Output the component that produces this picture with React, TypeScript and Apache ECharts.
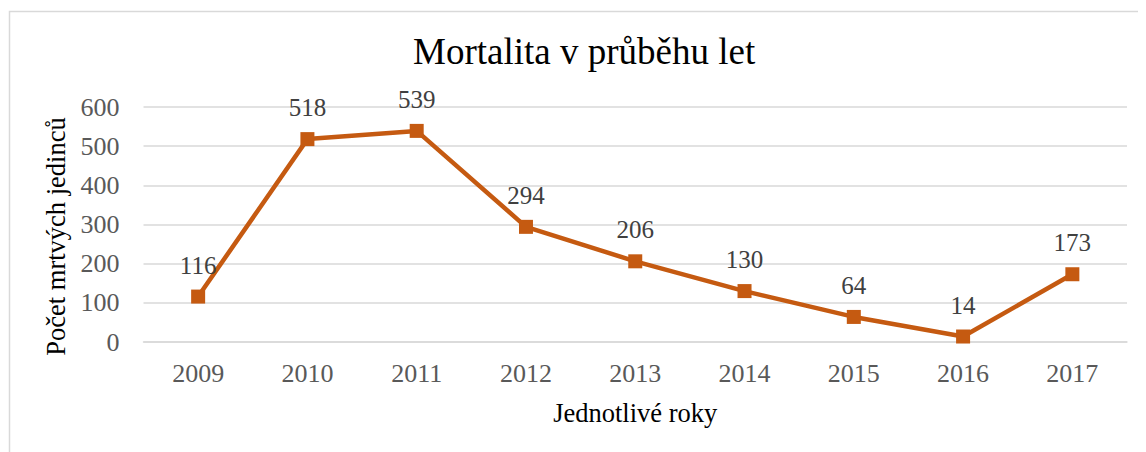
import React, { useEffect, useRef } from "react";
import * as echarts from "echarts";

const years = ["2009", "2010", "2011", "2012", "2013", "2014", "2015", "2016", "2017"];
const deaths = [116, 518, 539, 294, 206, 130, 64, 14, 173];
const titleText = "Mortalita v průběhu let";
const xName = "Jednotlivé roky";
const yName = "Počet mrtvých jedinců";

const FONT = "Liberation Serif";

export default function App() {
  const ref = useRef<HTMLDivElement>(null);
  useEffect(() => {
    if (!ref.current) return;
    const chart = echarts.init(ref.current, null, { renderer: "svg" });
    chart.setOption({
      animation: false,
      backgroundColor: "#ffffff",
      textStyle: { fontFamily: FONT },
      graphic: [
        {
          type: "rect",
          shape: { x: 1.5, y: 3.5, width: 1200, height: 600 },
          style: { fill: "none", stroke: "#d9d9d9", lineWidth: 1.5 },
          silent: true,
        },
      ],
      title: {
        text: titleText,
        left: 400,
        top: 20,
        textStyle: { fontFamily: FONT, fontSize: 37, fontWeight: "normal", color: "#000000" },
      },
      grid: { left: 135.5, right: 19, top: 99, bottom: 110 },
      xAxis: {
        type: "category",
        data: years,
        boundaryGap: true,
        name: xName,
        nameLocation: "middle",
        nameGap: 57,
        nameTextStyle: { fontFamily: FONT, fontSize: 26.5, color: "#000000" },
        axisLine: { show: true, lineStyle: { color: "#d9d9d9", width: 1.5 } },
        axisTick: { show: false },
        axisLabel: { fontFamily: FONT, fontSize: 26, color: "#595959", margin: 18 },
      },
      yAxis: {
        type: "value",
        min: 0,
        max: 600,
        interval: 100,
        name: yName,
        nameLocation: "middle",
        nameGap: 68,
        nameTextStyle: { fontFamily: FONT, fontSize: 26.5, color: "#000000", padding: [0, 24, 0, 0] },
        axisLine: { show: false },
        axisTick: { show: false },
        axisLabel: { fontFamily: FONT, fontSize: 26, color: "#595959", margin: 24 },
        splitLine: { lineStyle: { color: "#d9d9d9", width: 1.5 } },
      },
      series: [
        {
          type: "line",
          data: deaths,
          symbol: "rect",
          symbolSize: 14,
          lineStyle: { color: "#C55A11", width: 4.5 },
          itemStyle: { color: "#C55A11" },
          label: {
            show: true,
            position: "top",
            distance: 12,
            fontFamily: FONT,
            fontSize: 25,
            color: "#404040",
          },
        },
      ],
    });
    return () => chart.dispose();
  }, []);
  return <div ref={ref} style={{ width: 1138, height: 444 }} />;
}
